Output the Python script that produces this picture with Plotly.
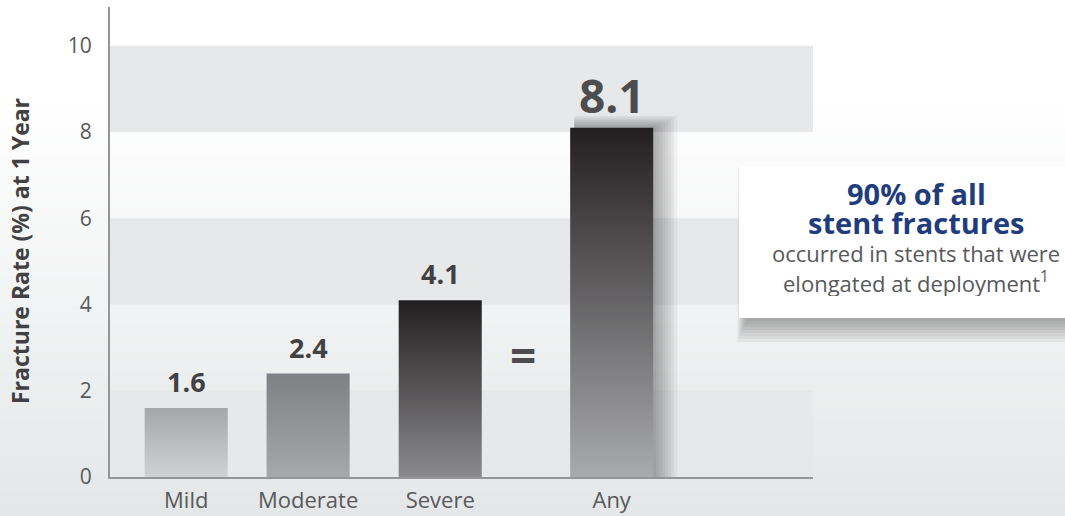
import plotly.graph_objects as go

# ---------------- data ----------------
categories = ["Mild", "Moderate", "Severe", "Any"]
fracture_rate = [1.6, 2.4, 4.1, 8.1]
value_labels = ["1.6", "2.4", "4.1", "8.1"]
y_ticks = [0, 2, 4, 6, 8, 10]
callout_title = ["90% of all", "stent fractures"]
callout_body = ["occurred in stents that were", "elongated at deployment<sup>1</sup>"]
y_title = "Fracture Rate (%) at 1 Year"

# ---------------- styling / layout ----------------
W, H = 1065, 516
L, R, T, B = 110, 1065 - 813, 7, 516 - 477
PW, PH = W - L - R, H - T - B
X_RANGE = [-0.6, 4.935]
Y_RANGE = [0, 10.9]
slots = [0, 0.96, 2, 3.35]          # horizontal slot of each category
bar_w = 0.654
px_per_x = PW / (X_RANGE[1] - X_RANGE[0])
px_per_y = PH / (Y_RANGE[1] - Y_RANGE[0])

grad_top = ["#a6a7a9", "#7f8083", "#231f20", "#231f20"]
grad_bot = ["#d0d1d2", "#a7a8aa", "#8a8a8c", "#a9aaac"]
FONT = "Open Sans"
TXT = "#58595b"
NAVY = "#1f3c7c"


def px_x(X):
    return (X - L) / PW


def px_y(Y):
    return (H - B - Y) / PH


fig = go.Figure()

shapes = []
# page background gradient (white at top, light grey at bottom)
step = 6
for Y in range(0, H + step, step):
    t = max(0.0, (Y + step / 2 - 100) / (H - 100))
    t = min(t, 1.0)
    c = [round(255 - t * (255 - v)) for v in (228, 230, 231)]
    shapes.append(dict(type="rect", xref="paper", yref="paper",
                       x0=px_x(-5), x1=px_x(W + 5), y0=px_y(Y + step), y1=px_y(Y),
                       fillcolor=f"rgb({c[0]},{c[1]},{c[2]})", line=dict(width=0),
                       layer="below"))

# alternating horizontal bands
for lo in (0, 4, 8):
    shapes.append(dict(type="rect", xref="x domain", yref="y", x0=0, x1=1,
                       y0=lo, y1=lo + 2, fillcolor="#e7e8ea", line=dict(width=0),
                       layer="below"))

# soft shadow behind the "Any" bar
i_any = categories.index("Any")
a_left = slots[i_any] - bar_w / 2
a_right = slots[i_any] + bar_w / 2
for k in range(1, 9):
    shapes.append(dict(type="rect", xref="x", yref="y",
                       x0=a_left + 4 / px_per_x, x1=a_right + 3 * k / px_per_x,
                       y0=0, y1=fracture_rate[i_any] + 1.5 * k / px_per_y,
                       fillcolor="black", opacity=0.045, line=dict(width=0),
                       layer="below"))

# callout box shadow and box
BX0, BX1, BY0, BY1 = 739, 1075, 166, 318
for k in range(1, 9):
    shapes.append(dict(type="rect", xref="paper", yref="paper",
                       x0=px_x(BX0 + 8 - 1.2 * k), x1=px_x(BX1),
                       y0=px_y(BY1 + 3 * k), y1=px_y(BY0 + 6 - 0.6 * k),
                       fillcolor="black", opacity=0.045, line=dict(width=0),
                       layer="below"))
shapes.append(dict(type="rect", xref="paper", yref="paper",
                   x0=px_x(BX0), x1=px_x(BX1), y0=px_y(BY1), y1=px_y(BY0),
                   fillcolor="white", line=dict(width=0), layer="below"))

# bars with vertical gradient
for i, (cat, v) in enumerate(zip(categories, fracture_rate)):
    l, r = slots[i] - bar_w / 2, slots[i] + bar_w / 2
    fig.add_trace(go.Scatter(
        x=[l, l, r, r, l], y=[0, v, v, 0, 0],
        mode="none", fill="toself",
        fillgradient=dict(type="vertical", start=0, stop=v,
                          colorscale=[[0, grad_bot[i]], [1, grad_top[i]]]),
        hoverinfo="skip", showlegend=False, name=cat))

annotations = []
# value labels
for i, (v, lab) in enumerate(zip(fracture_rate, value_labels)):
    big = categories[i] == "Any"
    annotations.append(dict(x=slots[i], y=v, xref="x", yref="y", text=f"<b>{lab}</b>",
                            showarrow=False, xanchor="center", yanchor="bottom",
                            yshift=0 if big else 6,
                            font=dict(family=FONT, size=46 if big else 27,
                                      color="#4d4d4f" if big else "#414042")))

# equals sign between Severe and Any
i_sev = categories.index("Severe")
eq_x = ((slots[i_sev] + bar_w / 2) + (slots[i_any] - bar_w / 2)) / 2
annotations.append(dict(x=eq_x, y=(H - B - 355) / px_per_y, xref="x", yref="y",
                        text="<b>=</b>", showarrow=False, xanchor="center",
                        yanchor="middle", xshift=-3,
                        font=dict(family=FONT, size=46, color="#4d4d4f")))

# y-axis title
annotations.append(dict(x=px_x(20), y=px_y(251), xref="paper", yref="paper",
                        text=f"<b>{y_title}</b>", textangle=-90, showarrow=False,
                        xanchor="center", yanchor="middle",
                        font=dict(family=FONT, size=23, color="#414042")))

# callout text (tight leading as in the original)
for txt, Y in zip(callout_title, (193, 222)):
    annotations.append(dict(x=px_x(916), y=px_y(Y), xref="paper", yref="paper",
                            text=f"<b>{txt}</b>", showarrow=False, height=27,
                            borderpad=0, xanchor="center", yanchor="middle",
                            font=dict(family=FONT, size=29, color=NAVY)))
for txt, Y in zip(callout_body, (253, 282)):
    annotations.append(dict(x=px_x(916), y=px_y(Y), xref="paper", yref="paper",
                            text=txt, showarrow=False, height=28, borderpad=0,
                            xanchor="center", yanchor="middle",
                            font=dict(family=FONT, size=22, color=TXT)))

fig.update_layout(
    width=W, height=H,
    margin=dict(l=L, r=R, t=T, b=B, pad=0, autoexpand=False),
    paper_bgcolor="white", plot_bgcolor="rgba(0,0,0,0)",
    shapes=shapes, annotations=annotations,
    showlegend=False,
    xaxis=dict(range=X_RANGE, tickvals=slots, ticktext=categories,
               showgrid=False, zeroline=False, showline=True, linecolor="#939598",
               linewidth=2, ticks="", ticklabelstandoff=3, automargin=False,
               tickfont=dict(family=FONT, size=22, color=TXT), fixedrange=True),
    yaxis=dict(range=Y_RANGE, tickvals=y_ticks, showgrid=False, zeroline=False,
               showline=True, linecolor="#939598", linewidth=2, ticks="",
               ticklabelstandoff=12, automargin=False,
               tickfont=dict(family=FONT, size=21, color=TXT), fixedrange=True),
)

fig.write_html("out.html")
